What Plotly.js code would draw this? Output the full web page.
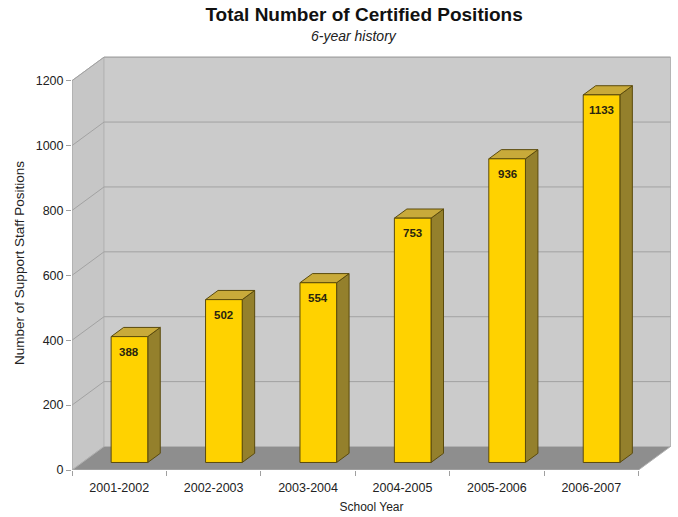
<!DOCTYPE html>
<html><head><meta charset="utf-8">
<script src="https://cdn.plot.ly/plotly-3.0.1.min.js"></script>
<style>html,body{margin:0;padding:0;background:#fff;}</style>
</head><body><div id="chart" style="width:678px;height:517px;"></div>
<script>
const categories = ['2001-2002','2002-2003','2003-2004','2004-2005','2005-2006','2006-2007'];
const positions = [388, 502, 554, 753, 936, 1133];
const yTicks = [0, 200, 400, 600, 800, 1000, 1200];

const chartTitle = 'Total Number of Certified Positions';
const chartSubtitle = '6-year history';
const xTitle = 'School Year';
const yTitle = 'Number of Support Staff Positions';

// 3D look (style constants)
const DX = 0.339, DY = 72.4;   // full depth offset in axis units
const F0 = 0.32, F1 = 0.71;    // bar depth front/back fractions
const BW = 0.388;              // bar width
const YMAX = yTicks[yTicks.length - 1];
const n = categories.length;
const xs = categories.map((_, i) => i);
const bounds = [];
for (let i = 0; i <= n; i++) bounds.push(i - 0.5);

const FONT = 'Arial, "Liberation Sans", Helvetica, sans-serif';
const shapes = [];
const L = -0.5, R = n - 0.5;

// left side wall
shapes.push({type:'path', layer:'below',
  path:`M ${L} 0 L ${L} ${YMAX} L ${L+DX} ${YMAX+DY} L ${L+DX} ${DY} Z`,
  fillcolor:'#c6c6c6', line:{color:'#b4b4b4', width:1}});
// back wall
shapes.push({type:'rect', layer:'below', x0:L+DX, x1:R+DX, y0:DY, y1:YMAX+DY,
  fillcolor:'#cbcbcb', line:{color:'#b4b4b4', width:1}});
// gridlines
yTicks.filter(v => v > 0).forEach(v => {
  shapes.push({type:'line', layer:'below', x0:L+DX, x1:R+DX, y0:v+DY, y1:v+DY,
    line:{color:'#a2a2a2', width:1}});
  shapes.push({type:'line', layer:'below', x0:L, x1:L+DX, y0:v, y1:v+DY,
    line:{color:'#a2a2a2', width:1}});
});
// floor
shapes.push({type:'path', layer:'below',
  path:`M ${L} 0 L ${R} 0 L ${R+DX} ${DY} L ${L+DX} ${DY} Z`,
  fillcolor:'#8e8e8e', line:{color:'#b0b0b0', width:1}});
// front left edge
shapes.push({type:'line', layer:'below', x0:L, x1:L, y0:0, y1:YMAX,
  line:{color:'#a8a8a8', width:1}});

// bar side and top faces
const base = F0 * DY;
const sx = (F1 - F0) * DX, sy = (F1 - F0) * DY;
positions.forEach((v, i) => {
  const xc = xs[i] + F0 * DX;
  const xl = xc - BW / 2, xr = xc + BW / 2;
  const top = base + v;
  shapes.push({type:'path', layer:'below',
    path:`M ${xr} ${base} L ${xr} ${top} L ${xr+sx} ${top+sy} L ${xr+sx} ${base+sy} Z`,
    fillcolor:'#94802c', line:{color:'#5a4a0c', width:1}});
  shapes.push({type:'path', layer:'below',
    path:`M ${xl} ${top} L ${xr} ${top} L ${xr+sx} ${top+sy} L ${xl+sx} ${top+sy} Z`,
    fillcolor:'#c8aa3a', line:{color:'#5a4a0c', width:1}});
});

const annotations = positions.map((v, i) => ({
  x: xs[i] + F0 * DX, y: base + v, xref:'x', yref:'y', yshift:-15,
  text:'<b>' + v + '</b>', showarrow:false,
  font:{family:FONT, size:11.5, color:'#2a2510'}
}));
annotations.push({xref:'paper', yref:'paper', x:0.47, y:1, yshift:20, xanchor:'center', yanchor:'middle',
  text:'<i>' + chartSubtitle + '</i>', showarrow:false, font:{family:FONT, size:14, color:'#222'}});

const traces = [
  {type:'bar', x: xs.map(i => i + F0 * DX), y: positions, base: base, width: BW,
   marker:{color:'#ffd200', line:{color:'#5a4a0c', width:1}},
   hoverinfo:'skip', showlegend:false},
  {type:'scatter', x:[], y:[], xaxis:'x2', yaxis:'y', showlegend:false, hoverinfo:'skip'}
];

const layout = {
  width:678, height:517,
  margin:{l:72, r:7, t:56, b:47},
  paper_bgcolor:'#ffffff', plot_bgcolor:'rgba(0,0,0,0)',
  font:{family:FONT, color:'#222'},
  title:{text:'<b>' + chartTitle + '</b>', x:0.537, xanchor:'center', y:0.973, yanchor:'middle',
    font:{family:FONT, size:19, color:'#111'}},
  xaxis:{range:[L, R + DX + 0.005], tickvals: xs, ticktext: categories, ticks:'',
    showgrid:false, zeroline:false, showline:false, fixedrange:true,
    tickfont:{family:FONT, size:12.5, color:'#222'}, ticklabelstandoff:8,
    title:{text:xTitle, font:{family:FONT, size:12, color:'#222'}, standoff:9}},
  xaxis2:{range:[L, R + DX + 0.005], overlaying:'x', anchor:'y', tickvals: bounds,
    ticks:'outside', ticklen:5, tickcolor:'#a0a0a0', showticklabels:false,
    showgrid:false, zeroline:false, showline:false},
  yaxis:{range:[0, 1276], tickvals: yTicks, ticks:'outside', ticklen:5, tickcolor:'#a0a0a0',
    showgrid:false, zeroline:false, showline:false,
    tickfont:{family:FONT, size:12.5, color:'#222'},
    title:{text:yTitle, font:{family:FONT, size:13.5, color:'#222'}, standoff:7}},
  shapes: shapes,
  annotations: annotations,
  bargap:0
};

Plotly.newPlot('chart', traces, layout, {displayModeBar:false, staticPlot:true});
</script>
</body></html>
